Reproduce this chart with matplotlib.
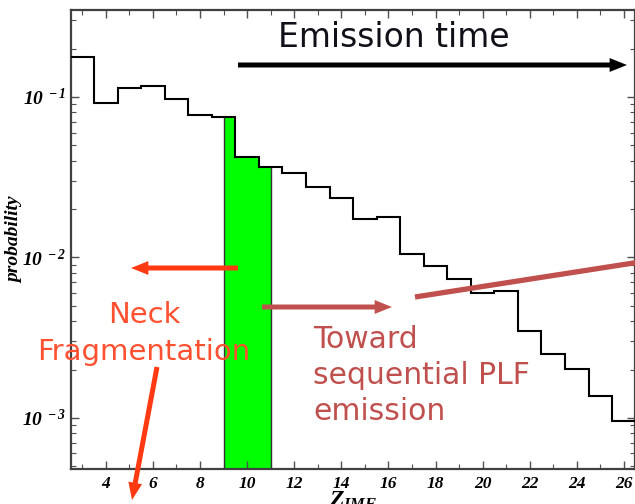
import numpy as np
import matplotlib
matplotlib.use("Agg")
import matplotlib.pyplot as plt

# fragment charge bins and probability per bin
z_bins = np.arange(3, 27)
prob = [0.177, 0.0918, 0.114, 0.117, 0.0972, 0.0773, 0.0750, 0.0423,
        0.0366, 0.0336, 0.0275, 0.0235, 0.0174, 0.0179, 0.0105, 0.00885,
        0.00735, 0.00601, 0.00618, 0.00348, 0.00251, 0.00202, 0.00137,
        0.000957]
neck_lo, neck_hi = 9, 11   # highlighted Z window

x_ticks = np.arange(4, 27, 2)
y_decades = [1e-3, 1e-2, 1e-1]

W, H = 635, 504
plt.rcParams['mathtext.fontset'] = 'custom'
plt.rcParams['mathtext.rm'] = 'Liberation Serif:bold:italic'
plt.rcParams['mathtext.it'] = 'Liberation Serif:bold:italic'
plt.rcParams['mathtext.bf'] = 'Liberation Serif:bold:italic'

fig = plt.figure(figsize=(W / 100, H / 100), dpi=100)
ax = fig.add_axes([70.5 / W, 1 - 469 / H, (634.5 - 70.5) / W, (469 - 10) / H])

def px(x, y):
    # pixel position -> figure fraction
    return (x / W, 1 - y / H)

edges = np.append(z_bins - 0.5, z_bins[-1] + 0.5)
ax.set_yscale('log')
ax.set_xlim(2.5, 26.45)
ax.set_ylim(4.8e-4, 0.348)

# green band under the histogram
vals = np.array(prob)
sel = (z_bins >= neck_lo) & (z_bins <= neck_hi)
band_edges = np.clip(np.append(z_bins[sel] - 0.5, z_bins[sel][-1] + 0.5), neck_lo, neck_hi)
ax.stairs(vals[sel], band_edges, baseline=1e-5, fill=True, color='#00FF00', zorder=1)
ax.vlines([neck_lo, neck_hi], 1e-5, [vals[sel][0], vals[sel][-1]],
          colors='#333333', lw=1.0, zorder=2)

ax.stairs(vals, edges, baseline=None, color='black', lw=1.5, zorder=3)

# axis cosmetics
for s in ax.spines.values():
    s.set_linewidth(1.6)
    s.set_color('#404040')
ax.set_xticks(x_ticks)
ax.set_xticks(np.arange(3, 27, 2), minor=True)
ax.set_xticklabels([str(v) for v in x_ticks], fontfamily='Liberation Serif',
                   fontweight='bold', fontstyle='italic', fontsize=12.5)
ax.set_yticks(y_decades)
ax.set_yticklabels([r'$10^{\,\,%d}$' % int(np.log10(v)) for v in y_decades], fontsize=14)
ax.tick_params(which='both', direction='in', top=True, right=True, color='#505050')
ax.tick_params(which='major', length=6, width=1.0)
ax.tick_params(which='minor', length=3.5, width=0.8)
ax.tick_params(axis='x', pad=5)
ax.tick_params(axis='y', pad=3)

fig.text(*px(15, 240), 'probability', rotation=90, ha='center', va='center',
         fontfamily='Liberation Serif', fontweight='bold', fontstyle='italic', fontsize=14)
fig.text(*px(329, 488), r'$Z_{IMF}$', ha='left', va='top', fontsize=17)

# annotations
ann_font = 'DejaVu Sans'
orange_txt = '#FF5030'
orange = '#FF3A12'
brown = '#C0504D'

def arrow(tail, tip, color):
    ax.annotate('', xy=px(*tip), xytext=px(*tail), xycoords='figure fraction',
                textcoords='figure fraction',
                arrowprops=dict(arrowstyle='simple,head_length=1.25,head_width=1.0,tail_width=0.36',
                                mutation_scale=10, color=color, lw=0,
                                shrinkA=0, shrinkB=0), annotation_clip=False)

fig.text(*px(278, 47), 'Emission time', ha='left', va='baseline',
         fontfamily=ann_font, fontsize=23.8, color='#101018')
arrow((238, 65), (627, 65), 'black')

arrow((238, 268), (131, 268), orange)
arrow((157, 367), (132, 500), orange)
fig.text(*px(144, 323), 'Neck', ha='center', va='baseline',
         fontfamily=ann_font, fontsize=21, color=orange_txt)
fig.text(*px(144, 360), 'Fragmentation', ha='center', va='baseline',
         fontfamily=ann_font, fontsize=21, color=orange_txt)

arrow((262, 307), (392, 307), brown)
fig.add_artist(plt.Line2D([415 / W, 640 / W], [1 - 297 / H, 1 - 262 / H],
                          transform=fig.transFigure, color=brown, lw=3.8,
                          solid_capstyle='butt'))
for txt, base in zip(['Toward', 'sequential PLF', 'emission'], [348, 384, 420]):
    fig.text(*px(313, base), txt, ha='left', va='baseline',
             fontfamily=ann_font, fontsize=21.5, color=brown)

fig.savefig('out.png', dpi=100)
